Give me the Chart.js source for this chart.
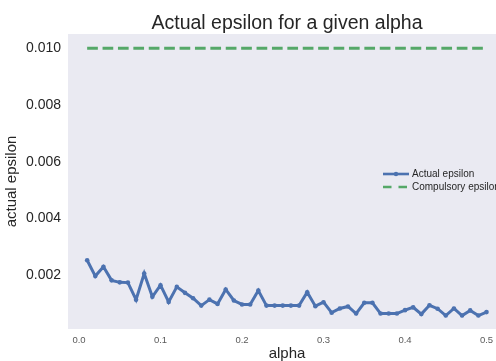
<!DOCTYPE html>
<html>
<head>
<meta charset="utf-8">
<script src="https://cdn.jsdelivr.net/npm/chart.js@4"></script>
<style>
  html, body { margin: 0; padding: 0; background: #ffffff; overflow: hidden; }
  canvas { display: block; }
</style>
</head>
<body>
<canvas id="chart" width="520" height="361"></canvas>
<script>
// alpha values on the x axis
const alphaValues = [
  0.01, 0.02, 0.03, 0.04, 0.05, 0.06, 0.07, 0.08, 0.09, 0.10,
  0.11, 0.12, 0.13, 0.14, 0.15, 0.16, 0.17, 0.18, 0.19, 0.20,
  0.21, 0.22, 0.23, 0.24, 0.25, 0.26, 0.27, 0.28, 0.29, 0.30,
  0.31, 0.32, 0.33, 0.34, 0.35, 0.36, 0.37, 0.38, 0.39, 0.40,
  0.41, 0.42, 0.43, 0.44, 0.45, 0.46, 0.47, 0.48, 0.49, 0.50
];

// measured epsilon for each alpha
const actualEpsilon = [
  0.00253, 0.00197, 0.00230, 0.00182, 0.00175, 0.00174, 0.00114, 0.00206, 0.00124, 0.00165,
  0.00106, 0.00159, 0.00138, 0.00119, 0.00093, 0.00114, 0.00099, 0.00150, 0.00111, 0.00097,
  0.00097, 0.00146, 0.00093, 0.00093, 0.00093, 0.00093, 0.00093, 0.00140, 0.00091, 0.00105,
  0.00068, 0.00083, 0.00090, 0.00065, 0.00103, 0.00103, 0.00065, 0.00065, 0.00065, 0.00077,
  0.00087, 0.00063, 0.00094, 0.00082, 0.00058, 0.00083, 0.00058, 0.00076, 0.00058, 0.00070
];

// required epsilon level
const compulsoryEpsilon = [
  0.010, 0.010, 0.010, 0.010, 0.010, 0.010, 0.010, 0.010, 0.010, 0.010,
  0.010, 0.010, 0.010, 0.010, 0.010, 0.010, 0.010, 0.010, 0.010, 0.010,
  0.010, 0.010, 0.010, 0.010, 0.010, 0.010, 0.010, 0.010, 0.010, 0.010,
  0.010, 0.010, 0.010, 0.010, 0.010, 0.010, 0.010, 0.010, 0.010, 0.010,
  0.010, 0.010, 0.010, 0.010, 0.010, 0.010, 0.010, 0.010, 0.010, 0.010
];

const xTickValues = [0.0, 0.1, 0.2, 0.3, 0.4, 0.5];
const yTickValues = [0.002, 0.004, 0.006, 0.008, 0.010];

const seriesNames = ['Actual epsilon', 'Compulsory epsilon'];
const titleText = 'Actual epsilon for a given alpha';
const xTitle = 'alpha';
const yTitle = 'actual epsilon';

const BLUE = '#4C72B0';
const GREEN = '#55A868';
const FONT = '"Liberation Sans", Arial, sans-serif';

const toPoints = (ys) => alphaValues.map((x, i) => ({ x: x, y: ys[i] }));

// grey panel behind the plot
const panelBackground = {
  id: 'panelBackground',
  beforeDraw(chart) {
    const { ctx, chartArea: a } = chart;
    ctx.save();
    ctx.fillStyle = '#EAEAF2';
    ctx.fillRect(a.left, a.top, a.right - a.left, a.bottom - a.top);
    ctx.restore();
  }
};

// title centred over the plot panel
const panelTitle = {
  id: 'panelTitle',
  afterDraw(chart) {
    const { ctx, chartArea: a } = chart;
    ctx.save();
    ctx.font = '19.5px ' + FONT;
    ctx.fillStyle = '#262626';
    ctx.textAlign = 'center';
    ctx.textBaseline = 'alphabetic';
    ctx.fillText(titleText, (a.left + a.right) / 2, 28.5);
    ctx.restore();
  }
};

// legend inside the panel, right side
const panelLegend = {
  id: 'panelLegend',
  afterDraw(chart) {
    const { ctx } = chart;
    const x0 = 383, len = 26, rowY = [174, 187];
    ctx.save();
    ctx.font = '10px ' + FONT;
    ctx.textBaseline = 'middle';
    ctx.textAlign = 'left';
    chart.data.datasets.forEach((ds, i) => {
      const y = rowY[i];
      ctx.strokeStyle = ds.borderColor;
      ctx.lineWidth = 2.6;
      ctx.setLineDash(i === 1 ? [8.5, 7] : []);
      ctx.beginPath();
      ctx.moveTo(x0, y);
      ctx.lineTo(x0 + len, y);
      ctx.stroke();
      ctx.setLineDash([]);
      if (i === 0) {
        ctx.fillStyle = ds.borderColor;
        ctx.beginPath();
        ctx.arc(x0 + len / 2, y, 2.2, 0, Math.PI * 2);
        ctx.fill();
      }
      ctx.fillStyle = '#262626';
      ctx.fillText(ds.label, x0 + len + 3, y);
    });
    ctx.restore();
  }
};

new Chart(document.getElementById('chart'), {
  type: 'line',
  data: {
    datasets: [
      {
        label: seriesNames[0],
        data: toPoints(actualEpsilon),
        borderColor: BLUE,
        backgroundColor: BLUE,
        borderWidth: 3,
        pointRadius: 2.3,
        pointBorderWidth: 0,
        pointBackgroundColor: BLUE,
        tension: 0,
        order: 1
      },
      {
        label: seriesNames[1],
        data: toPoints(compulsoryEpsilon),
        borderColor: GREEN,
        backgroundColor: GREEN,
        borderWidth: 3,
        borderDash: [10.7, 4.7],
        pointRadius: 0,
        tension: 0,
        order: 2
      }
    ]
  },
  options: {
    responsive: false,
    animation: false,
    devicePixelRatio: 1,
    layout: { padding: { top: 34, right: 14, left: 0, bottom: 0 } },
    plugins: {
      legend: { display: false },
      title: { display: false },
      tooltip: { enabled: false }
    },
    scales: {
      x: {
        type: 'linear',
        min: -0.0135,
        max: 0.5239,
        grid: { display: false, drawTicks: false },
        border: { display: false },
        afterBuildTicks(scale) { scale.ticks = xTickValues.map(v => ({ value: v })); },
        afterFit(scale) { scale.height = 32; },
        ticks: {
          padding: 6,
          color: '#5a5a5a',
          font: { family: FONT, size: 9.5 },
          maxRotation: 0,
          callback: (v) => Number(v).toFixed(1)
        },
        title: {
          display: true,
          text: xTitle,
          color: '#262626',
          font: { family: FONT, size: 15, lineHeight: 1 },
          padding: 0
        }
      },
      y: {
        min: 0.000105,
        max: 0.010505,
        grid: { display: false, drawTicks: false },
        border: { display: false },
        afterBuildTicks(scale) { scale.ticks = yTickValues.map(v => ({ value: v })); },
        afterFit(scale) { scale.width = 68; },
        ticks: {
          padding: 7,
          color: '#262626',
          font: { family: FONT, size: 14 },
          callback: (v) => Number(v).toFixed(3)
        },
        title: {
          display: true,
          text: yTitle,
          color: '#262626',
          font: { family: FONT, size: 15 },
          padding: { top: 3, bottom: 0 }
        }
      }
    }
  },
  plugins: [panelBackground, panelTitle, panelLegend]
});
</script>
</body>
</html>
